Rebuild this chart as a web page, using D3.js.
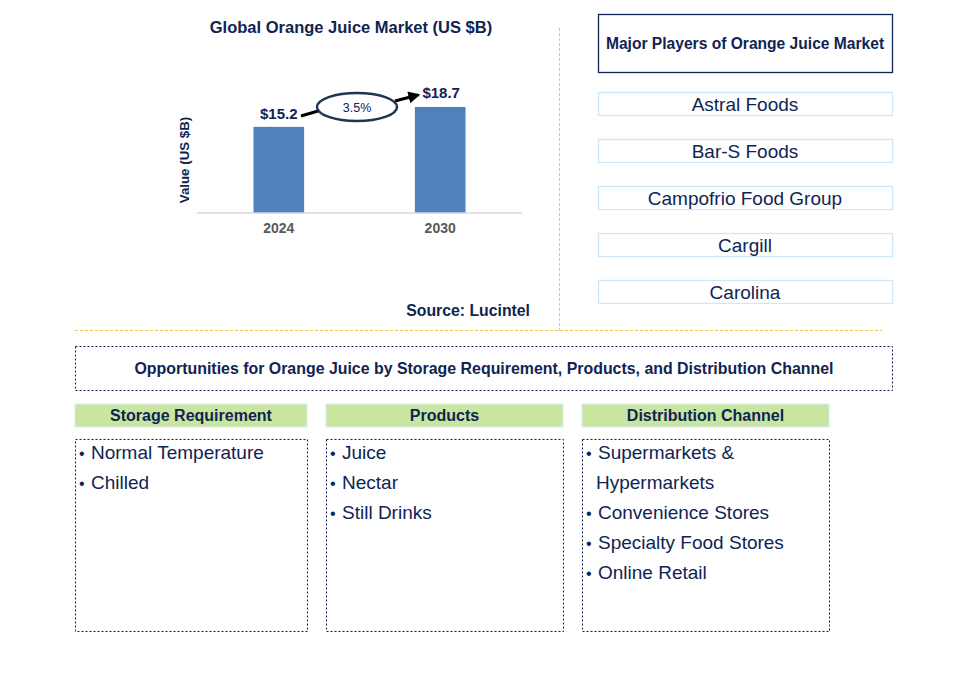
<!DOCTYPE html>
<html><head><meta charset="utf-8">
<script src="https://cdn.jsdelivr.net/npm/d3@7"></script>
<style>body{margin:0;background:#fff}svg{display:block}</style>
</head><body>
<svg id="c" width="957" height="673"></svg>
<script>
const years = ["2024", "2030"];
const values = [15.2, 18.7];
const valueLabels = ["$15.2", "$18.7"];
const cagrLabel = "3.5%";
const chartTitle = "Global Orange Juice Market (US $B)";
const yAxisTitle = "Value (US $B)";
const sourceText = "Source: Lucintel";
const playersTitle = "Major Players of Orange Juice Market";
const players = ["Astral Foods", "Bar-S Foods", "Campofrio Food Group", "Cargill", "Carolina"];
const oppTitle = "Opportunities for Orange Juice by Storage Requirement, Products, and Distribution Channel";
const segTitles = ["Storage Requirement", "Products", "Distribution Channel"];
const segItems = [
  [["Normal Temperature"], ["Chilled"]],
  [["Juice"], ["Nectar"], ["Still Drinks"]],
  [["Supermarkets &", "Hypermarkets"], ["Convenience Stores"], ["Specialty Food Stores"], ["Online Retail"]]
];

const navy = "#0f2453";
const svg = d3.select("#c");
const F = "Arial, 'Liberation Sans', sans-serif";
const FN = "'Liberation Sans Narrow', 'Arial Narrow', Arial, sans-serif";

svg.append("defs").append("marker").attr("id","ah").attr("viewBox","0 0 10 10")
  .attr("refX",8).attr("refY",5).attr("markerWidth",4).attr("markerHeight",4).attr("orient","auto")
  .append("path").attr("d","M0,0L10,5L0,10z").attr("fill","#000");

// chart
const x = d3.scaleBand().domain(years).range([197, 522]).paddingInner(0.686).paddingOuter(0.35);
const y = d3.scaleLinear().domain([0, 18.7]).range([213, 107]);

svg.append("text").attr("x",351).attr("y",33).attr("text-anchor","middle")
  .attr("font-family",F).attr("font-weight","bold").attr("font-size",16.5).attr("fill",navy).text(chartTitle);

svg.selectAll("rect.bar").data(values).join("rect").attr("class","bar")
  .attr("x",(d,i)=>x(years[i])).attr("width",x.bandwidth())
  .attr("y",d=>y(d)).attr("height",d=>y(0)-y(d)).attr("fill","#4f81bd");

const xa = svg.append("g").attr("transform","translate(0,213)").call(d3.axisBottom(x).tickSize(0).tickPadding(10));
xa.select(".domain").attr("stroke","#d9d9d9").attr("stroke-width",1.5).attr("d","M197,0H522");
xa.selectAll("text").attr("font-family",F).attr("font-weight","bold").attr("font-size",14).attr("fill","#595959");

svg.append("text").attr("transform","translate(189,160) rotate(-90)").attr("text-anchor","middle")
  .attr("font-family",F).attr("font-weight","bold").attr("font-size",13.3).attr("fill",navy).text(yAxisTitle);

svg.selectAll("text.vl").data(values).join("text").attr("class","vl")
  .attr("x",(d,i)=>x(years[i])+x.bandwidth()/2 + (i===0?0:1))
  .attr("y",(d,i)=>y(d)-(i===0?8:9)).attr("text-anchor","middle")
  .attr("font-family",F).attr("font-weight","bold").attr("font-size",15).attr("fill",navy)
  .text((d,i)=>valueLabels[i]);

// CAGR ellipse + arrows
const ex = 357, ey = 107;
svg.append("line").attr("x1",301).attr("y1",116).attr("x2",318).attr("y2",111).attr("stroke","#000").attr("stroke-width",3);
svg.append("line").attr("x1",395).attr("y1",101).attr("x2",418).attr("y2",95).attr("stroke","#000").attr("stroke-width",3).attr("marker-end","url(#ah)");
svg.append("ellipse").attr("cx",ex).attr("cy",ey).attr("rx",40).attr("ry",14)
  .attr("fill","#fff").attr("stroke","#1f3550").attr("stroke-width",2.5);
svg.append("text").attr("x",ex).attr("y",ey+4.5).attr("text-anchor","middle")
  .attr("font-family",F).attr("font-size",12.5).attr("fill",navy).text(cagrLabel);

svg.append("text").attr("x",530).attr("y",316).attr("text-anchor","end")
  .attr("font-family",F).attr("font-weight","bold").attr("font-size",15.8).attr("fill",navy).text(sourceText);

// dashed separators
svg.append("line").attr("x1",559.5).attr("y1",28).attr("x2",559.5).attr("y2",332)
  .attr("stroke","#f5c242").attr("stroke-width",1).attr("stroke-dasharray","3,2");
svg.append("line").attr("x1",75).attr("y1",330.5).attr("x2",882).attr("y2",330.5)
  .attr("stroke","#f5c242").attr("stroke-width",1).attr("stroke-dasharray","3,2");

// players
svg.append("rect").attr("x",598.5).attr("y",14.5).attr("width",294).attr("height",58)
  .attr("fill","#fff").attr("stroke","#0f2453").attr("stroke-width",1.3);
svg.append("text").attr("x",745).attr("y",49).attr("text-anchor","middle")
  .attr("font-family",F).attr("font-weight","bold").attr("font-size",15.6).attr("fill",navy).text(playersTitle);
const py = d3.scalePoint().domain(players).range([104, 292]);
const pg = svg.selectAll("g.pl").data(players).join("g").attr("class","pl");
pg.append("rect").attr("x",598.5).attr("y",d=>py(d)-11.5).attr("width",294).attr("height",23)
  .attr("fill","#fff").attr("stroke","#cfe6f5").attr("stroke-width",1.3);
pg.append("text").attr("x",745).attr("y",d=>py(d)+7).attr("text-anchor","middle")
  .attr("font-family",F).attr("font-size",19).attr("fill",navy).text(d=>d);

// opportunities
svg.append("rect").attr("x",75.5).attr("y",346.5).attr("width",817).attr("height",44)
  .attr("fill","none").attr("stroke",navy).attr("stroke-width",1).attr("stroke-dasharray","2,2");
svg.append("text").attr("x",484).attr("y",374).attr("text-anchor","middle")
  .attr("font-family",FN).attr("font-weight","bold").attr("font-size",16.5).attr("fill",navy)
  .attr("textLength",699).attr("lengthAdjust","spacingAndGlyphs").text(oppTitle);

const cols = [{x:75,w:232},{x:326,w:237},{x:582,w:247}];
cols.forEach((c,i)=>{
  svg.append("rect").attr("x",c.x).attr("y",404).attr("width",c.w).attr("height",23)
    .attr("fill","#c8e6a0").attr("stroke","#d6ecf5").attr("stroke-width",1);
  svg.append("text").attr("x",c.x+c.w/2).attr("y",421).attr("text-anchor","middle")
    .attr("font-family",FN).attr("font-weight","bold").attr("font-size",16).attr("fill",navy).text(segTitles[i]);
  svg.append("rect").attr("x",c.x+0.5).attr("y",439.5).attr("width",c.w).attr("height",192)
    .attr("fill","none").attr("stroke",navy).attr("stroke-width",1).attr("stroke-dasharray","2,2");
  let line = 0;
  segItems[i].forEach(item=>{
    item.forEach((t,k)=>{
      const yy = 459 + line*30;
      if(k===0) svg.append("text").attr("x",c.x+4).attr("y",yy).attr("font-family",F).attr("font-size",16).attr("fill",navy).text("•");
      svg.append("text").attr("x",c.x+(k===0?16:14)).attr("y",yy).attr("font-family",F).attr("font-size",19).attr("fill",navy).text(t);
      line++;
    });
  });
});
</script>
</body></html>
